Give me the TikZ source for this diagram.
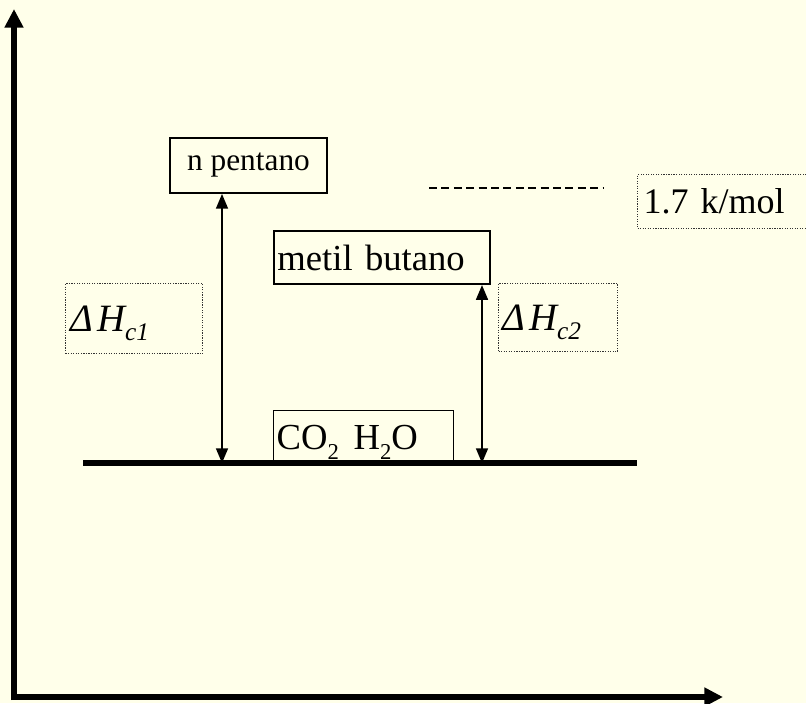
\documentclass[tikz,border=0pt]{standalone}
\usepackage{fontspec}
\setmainfont{Liberation Serif}
\usetikzlibrary{arrows.meta}
\definecolor{bgcream}{HTML}{FFFFEA}
\definecolor{dotgray}{HTML}{333333}
\tikzset{
  solidbox/.style={draw=black, line width=1.5pt, inner sep=0pt, anchor=north west},
  dotbox/.style={draw=dotgray, line width=0.9pt, densely dotted, inner sep=0pt, anchor=north west, align=left},
  axis/.style={line width=4.5pt, -{Triangle[width=13.5pt,length=14pt]}},
  levelarrow/.style={line width=1.1pt, {Triangle[width=9pt,length=11pt]}-{Triangle[width=9pt,length=11pt]}},
  bigtext/.style={font=\fontsize{27.5pt}{32pt}\selectfont},
}
\newcommand{\lowsub}[2]{\raisebox{#1}[0pt][0pt]{\fontsize{17pt}{20pt}\selectfont #2}}
\newcommand{\dH}[1]{{\fontsize{29pt}{33pt}\selectfont\itshape\char"0394\hspace{3pt}H\raisebox{-7pt}[0pt][0pt]{\fontsize{19pt}{22pt}\selectfont #1}}}
\begin{document}
\begin{tikzpicture}[x=0.75pt,y=-0.75pt]
\useasboundingbox (0,0) rectangle (806,703);
\fill[bgcream] (0,0) rectangle (806,703);
\clip (0,0) rectangle (806,703);
% axes
\coordinate (origin) at (14,697);
\coordinate (ytip) at (14,9);
\coordinate (xtip) at (723,697);
\draw[axis] (ytip |- 0,700) -- (ytip);
\draw[axis] (11.8,697) -- (xtip);
% base level
\coordinate (baseL) at (83,463);
\coordinate (baseR) at (637,463);
% boxes
\node[solidbox, minimum width=117.75pt, minimum height=41.25pt, font=\fontsize{23.5pt}{28pt}\selectfont] (np) at (169,137) {n pentano};
\node[solidbox, line width=1.6pt, minimum height=39.75pt, text width=157pt, inner xsep=2.5pt, align=left, bigtext] (mb) at (273,230) {metil butano};
\node[solidbox, line width=1.1pt, minimum height=39.75pt, text width=130.5pt, inner xsep=2.25pt, align=left, bigtext] (co) at (273,410) {CO\lowsub{-8pt}{2}\hspace{0.4em}H\lowsub{-8pt}{2}O};
\draw[line width=3.8pt] (baseL) -- (baseR);
% dashed line and 1.7 k/mol
\coordinate (dashL) at (429,188);
\coordinate (dashR) at (603,188);
\draw[line width=0.8pt, dash pattern=on 6pt off 3.3pt] (dashL) -- (dashR);
\node[dotbox, minimum height=40.5pt, text width=130pt, inner xsep=4.5pt, font=\fontsize{27pt}{32pt}\selectfont] (kmol) at (637,174) {1.7 k/mol};
% Delta H boxes
\node[dotbox, minimum height=52.5pt, text width=95.25pt, inner xsep=3.75pt] (dh1) at (65,283) {\dH{c1}};
\node[dotbox, minimum height=51pt, text width=83.25pt, inner xsep=3pt] (dh2) at (498,283) {\dH{c2}};
% arrows
\coordinate (a1) at (222,463);
\coordinate (a2) at (482,463);
\draw[levelarrow] (np.south -| a1) -- (a1);
\draw[levelarrow] (mb.south -| a2) -- (a2);
\end{tikzpicture}
\end{document}
